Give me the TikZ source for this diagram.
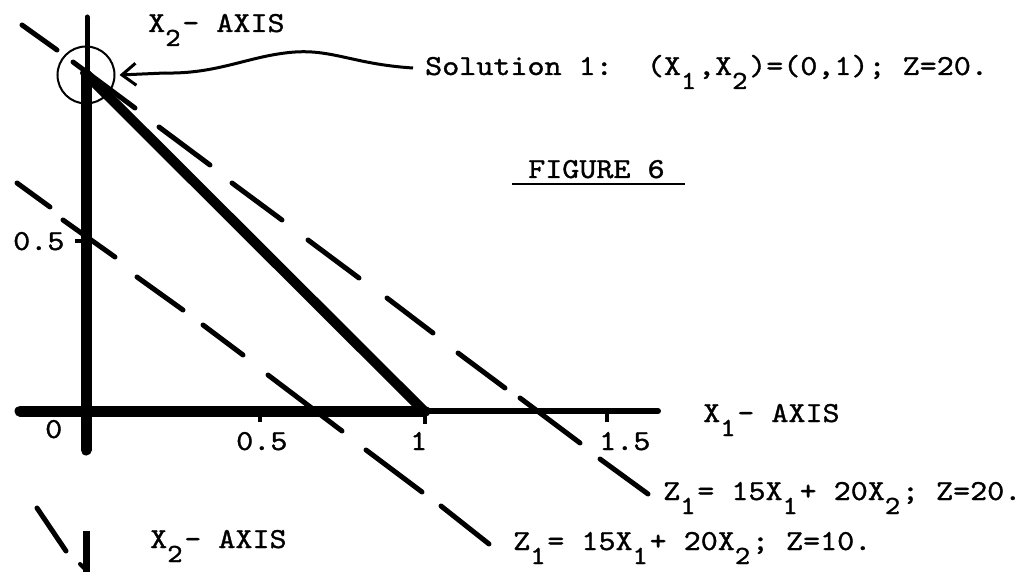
\documentclass[tikz,border=0pt]{standalone}
\usepackage{fontspec}
\usetikzlibrary{arrows.meta}
\newfontfamily\tw{lmmono10-regular.otf}[FakeStretch=1.12, FakeBold=1.2]
\newcommand\dn[1]{\rlap{\raisebox{-14pt}{\scalebox{0.9}{#1}}}\phantom{0}}
\begin{document}
\begin{tikzpicture}[x=1pt,y=-1pt,
  lbl/.style={anchor=base west, inner sep=0pt, font=\tw\fontsize{29}{34}\selectfont},
  axthick/.style={line width=11pt, line cap=round},
  axthin/.style={line width=6pt, line cap=round},
  tickmark/.style={line width=4pt},
  dsh/.style={line width=5pt, line cap=round},
  solid line/.style={line width=10pt, line cap=round}]
\useasboundingbox (0,0) rectangle (1033,572);
\fill[white] (0,0) rectangle (1033,572);

% axes
\draw[line width=5pt, line cap=round] (87,17) -- (87,80);
\draw[axthick] (86,75) -- (86,450);
\draw[axthick] (20,411) -- (425,411);
\draw[axthin] (425,411) -- (658,411);
% ticks
\draw[tickmark] (260,411) -- (260,422);
\draw[tickmark] (425,411) -- (425,424);
\draw[tickmark] (607,411) -- (607,422);
\draw[tickmark] (75,241) -- (86,241);

% constraint line
\draw[solid line] (85,73) -- (423,410);

% Z = 20 dashed line
\draw[dsh] (22,25) -- (57,50);
\draw[dsh] (73,62) -- (135,108);
\draw[dsh] (159,127) -- (210,165);
\draw[dsh] (232,183) -- (282,220);
\draw[dsh] (308,240) -- (359,278);
\draw[dsh] (387,298) -- (433,333);
\draw[dsh] (458,353) -- (505,388);
\draw[dsh] (520,398) -- (580,443);
\draw[dsh] (600,459) -- (648,494);

% Z = 10 dashed line
\draw[dsh] (17,183) -- (50,207);
\draw[dsh] (63,220) -- (115,257);
\draw[dsh] (137,277) -- (183,310);
\draw[dsh] (203,325) -- (243,355);
\draw[dsh] (268,375) -- (342,431);
\draw[dsh] (366,450) -- (422,492);
\draw[dsh] (441,506) -- (489,544);

% circle around solution
\node[draw, circle, line width=2pt, minimum size=57pt, inner sep=0pt] (c) at (86,75) {};

% labels
\node[lbl] (x2top) at (148,32) {X\dn{2}- AXIS};
\node[lbl] (sol) at (425,75) {Solution 1:~~(X\dn{1},X\dn{2})=(0,1); Z=20.};
\node[lbl] (fig) at (528,178) {FIGURE 6};
\draw[line width=2pt] (512,184) -- (685,184);
\node[lbl] (y05) at (13,250) {0.5};
\node[lbl] (o) at (45,438) {0};
\node[lbl] (x05) at (236,450) {0.5};
\node[lbl] (x1) at (410,450) {1};
\node[lbl] (x15) at (599,450) {1.5};
\node[lbl] (x1ax) at (703,422) {X\dn{1}- AXIS};
\node[lbl] (z20) at (663,500) {Z\dn{1}= 15X\dn{1}+ 20X\dn{2}; Z=20.};
\node[lbl] (z10) at (513,550) {Z\dn{1}= 15X\dn{1}+ 20X\dn{2}; Z=10.};
\node[lbl] (x2bot) at (150,548) {X\dn{2}- AXIS};

% wavy arrow
\draw[line width=3pt, -{Straight Barb[length=14pt,width=22pt]}]
  ([shift={(-12,-7)}]sol.base west) .. controls (350,64) and (330,47) .. (285,53)
  .. controls (245,58) and (215,74) .. (165,73) -- ([xshift=4pt]c.east);

% fragments of next figure
\draw[line width=5pt, line cap=round] (37,508) -- (66,551);
\draw[line width=7pt] (86,531) -- (86,572);
\draw[line width=4pt, line cap=round] (80,564) -- (86,570);
\end{tikzpicture}
\end{document}
